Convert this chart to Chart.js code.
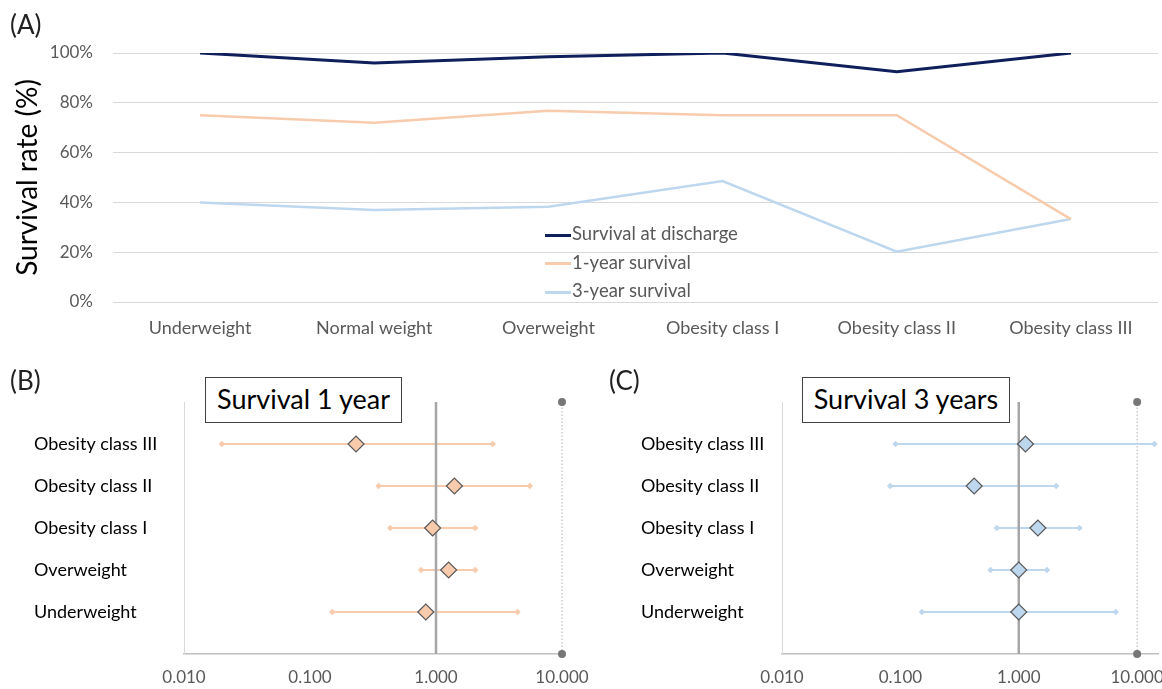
<!DOCTYPE html>
<html lang="en">
<head>
<meta charset="UTF-8">
<title>Survival by BMI class</title>
<script src="https://cdn.jsdelivr.net/npm/chart.js"></script>
<style>
  body { margin: 0; background: #fff; font-family: Lato, sans-serif; }
  .wrap { position: relative; width: 1162px; height: 689px; overflow: hidden; }
  canvas { position: absolute; }
  .panel-tag { position: absolute; font-size: 26px; color: #222; line-height: 1; }
  .legend { position: absolute; left: 545px; top: 221px; font-size: 18.5px; color: #595959; }
  .legend div { height: 28.5px; line-height: 24px; white-space: nowrap; }
  .legend span { display: inline-block; width: 26px; height: 3px; vertical-align: middle; margin-right: 1px; }
  .box { position: absolute; border: 1.5px solid #404040; background: #fff; font-size: 27px; color: #000;
         text-align: center; line-height: 42px; box-sizing: border-box; height: 46px; }
</style>
</head>
<body>
<div class="wrap">
  <canvas id="chartA" width="1162" height="345" style="left:0;top:0"></canvas>
  <canvas id="chartB" width="600" height="344" style="left:0;top:345px"></canvas>
  <canvas id="chartC" width="562" height="344" style="left:600px;top:345px"></canvas>

  <div class="panel-tag" style="left:10px;top:11px">(A)</div>
  <div class="panel-tag" style="left:10px;top:367px">(B)</div>
  <div class="panel-tag" style="left:609px;top:367px">(C)</div>

  <div class="legend" id="legendA"></div>

  <div class="box" style="left:205px;top:377px;width:197px">Survival 1 year</div>
  <div class="box" style="left:802px;top:377px;width:208px">Survival 3 years</div>
</div>

<script>
// ---- data: panel A ----
const categories = ['Underweight', 'Normal weight', 'Overweight', 'Obesity class I', 'Obesity class II', 'Obesity class III'];
const survDischarge = [100, 96.0, 98.5, 100, 92.5, 100];
const surv1y = [75.0, 72.0, 76.8, 75.0, 75.0, 33.3];
const surv3y = [40.0, 36.9, 38.3, 48.6, 20.2, 33.3];
const seriesNames = ['Survival at discharge', '1-year survival', '3-year survival'];
const seriesColors = ['#0f1f5c', '#f8cbad', '#bdd7ee'];

// ---- data: panels B and C (bottom row first) ----
const rowLabels = ['Underweight', 'Overweight', 'Obesity class I', 'Obesity class II', 'Obesity class III'];
const or1 = [0.83, 1.26, 0.94, 1.40, 0.232];
const lo1 = [0.150, 0.762, 0.433, 0.350, 0.020];
const hi1 = [4.43, 2.05, 2.05, 5.55, 2.82];
const or3 = [1.0, 1.0, 1.45, 0.42, 1.14];
const lo3 = [0.152, 0.577, 0.653, 0.082, 0.091];
const hi3 = [6.6, 1.73, 3.26, 2.07, 14.0];
const xTicks = [0.01, 0.1, 1, 10];

const tickGray = '#595959';

// panel A
new Chart(document.getElementById('chartA'), {
  type: 'line',
  data: {
    labels: categories,
    datasets: [survDischarge, surv1y, surv3y].map((d, i) => ({
      label: seriesNames[i],
      data: d,
      borderColor: seriesColors[i],
      borderWidth: i === 0 ? 3 : 2.5,
      pointRadius: 0,
      tension: 0
    }))
  },
  options: {
    responsive: false,
    devicePixelRatio: 1,
    animation: false,
    layout: { autoPadding: false, padding: { top: 53, right: 4, left: 0, bottom: 0 } },
    plugins: { legend: { display: false }, tooltip: { enabled: false } },
    scales: {
      x: {
        offset: true,
        grid: { display: false, drawTicks: false },
        border: { display: false },
        ticks: { color: tickGray, font: { family: 'Lato', size: 18 }, padding: 15, maxRotation: 0, autoSkip: false },
        afterFit: s => { s.height = 43; s.paddingLeft = 0; s.paddingRight = 0; }
      },
      y: {
        min: 0, max: 100,
        grid: { color: '#d9d9d9', lineWidth: 1, drawTicks: false },
        border: { display: false },
        ticks: { stepSize: 20, color: tickGray, font: { family: 'Lato', size: 17 }, padding: 20,
                 callback: v => v + '%' },
        title: { display: true, text: 'Survival rate (%)', color: '#000',
                 font: { family: 'Lato', size: 28 }, padding: { top: 11, bottom: 0 } },
        afterFit: s => { s.width = 113; }
      }
    }
  }
});

// html legend for panel A
document.getElementById('legendA').innerHTML = seriesNames.map((n, i) =>
  '<div><span style="background:' + seriesColors[i] + '"></span>' + n + '</div>').join('');

function makeForest(id, or, lo, hi, color, xMax, padL, yWidth, padR) {
  const ci = rowLabels.map((_, i) => ({
    data: [{ x: lo[i], y: i + 1 }, { x: hi[i], y: i + 1 }],
    borderColor: color,
    borderWidth: 2,
    pointStyle: 'rectRot',
    pointRadius: 3.2,
    pointBackgroundColor: color,
    pointBorderWidth: 0,
    clip: false
  }));
  return new Chart(document.getElementById(id), {
    type: 'line',
    data: {
      datasets: [
        {
          data: or.map((v, i) => ({ x: v, y: i + 1 })),
          showLine: false,
          pointStyle: 'rectRot',
          pointRadius: 8,
          pointBackgroundColor: color,
          pointBorderColor: '#595959',
          pointBorderWidth: 1.2,
          clip: false
        },
        {
          data: [{ x: 1, y: 0 }, { x: 1, y: 6 }],
          borderColor: '#a6a6a6',
          borderWidth: 2.5,
          pointRadius: 0
        },
        ...ci,
        {
          data: [{ x: 10, y: 0 }, { x: 10, y: 6 }],
          borderColor: '#b0b0b0',
          borderWidth: 1,
          borderDash: [1.5, 2],
          pointRadius: 4,
          pointBackgroundColor: '#767676',
          pointBorderWidth: 0,
          clip: false
        }
      ]
    },
    options: {
      responsive: false,
      devicePixelRatio: 1,
      animation: false,
      layout: { autoPadding: false, padding: { top: 57, right: padR, left: padL, bottom: 0 } },
      plugins: { legend: { display: false }, tooltip: { enabled: false } },
      scales: {
        x: {
          type: 'logarithmic',
          min: 0.01, max: xMax,
          grid: { display: false, drawTicks: false },
          border: { color: '#bfbfbf', width: 1.5 },
          afterBuildTicks: s => { s.ticks = xTicks.map(v => ({ value: v })); },
          ticks: { color: tickGray, font: { family: 'Lato', size: 17 }, padding: 13,
                   maxRotation: 0, autoSkip: false, callback: v => Number(v).toFixed(3) },
          afterFit: s => { s.height = 35; s.paddingLeft = 0; s.paddingRight = 0; }
        },
        y: {
          type: 'linear',
          min: 0, max: 6,
          grid: { display: false, drawTicks: false },
          border: { color: '#d9d9d9', width: 1, dash: [1.5, 2] },
          afterBuildTicks: s => { s.ticks = rowLabels.map((_, i) => ({ value: i + 1 })); },
          ticks: { color: '#000', font: { family: 'Lato', size: 18 }, crossAlign: 'far',
                   callback: v => rowLabels[v - 1] || '' },
          afterFit: s => { s.width = yWidth; s.paddingTop = 0; s.paddingBottom = 0; }
        }
      }
    }
  });
}

makeForest('chartB', or1, lo1, hi1, '#f8cbad', 10, 34, 150, 38);
makeForest('chartC', or3, lo3, hi3, '#bdd7ee', 15, 41, 141, 4);
</script>
</body>
</html>
